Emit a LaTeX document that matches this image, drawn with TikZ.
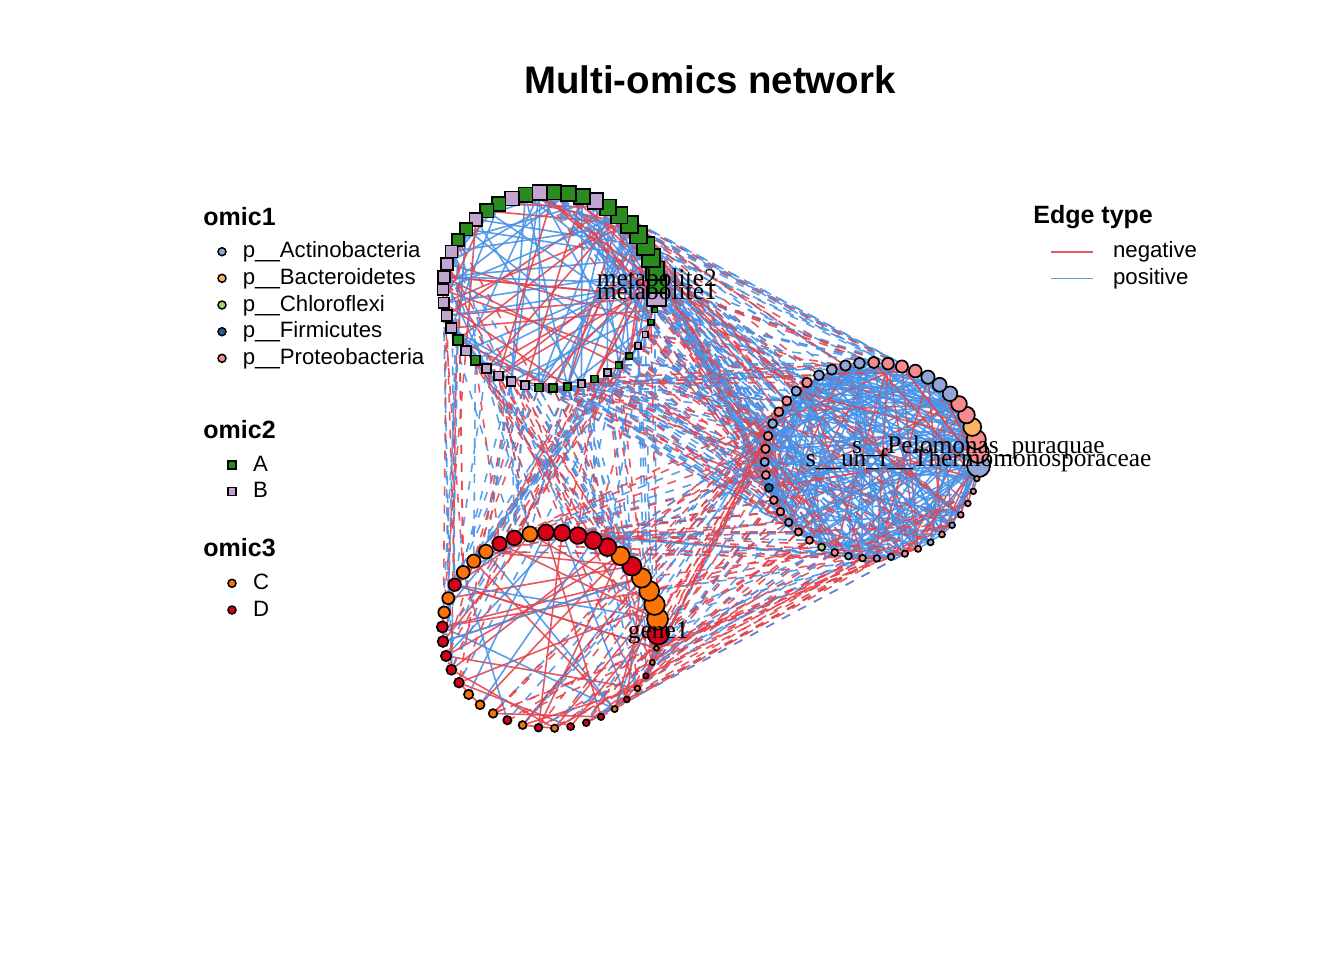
\documentclass[tikz,border=0pt]{standalone}
\usepackage{fontspec}
\setmainfont{Liberation Sans}
\newfontfamily\seriffont{Liberation Serif}
\usetikzlibrary{backgrounds}
\definecolor{colA}{HTML}{2A8B1F}
\definecolor{colB}{HTML}{C2A5CF}
\definecolor{colAc}{HTML}{8FA6D6}
\definecolor{colBa}{HTML}{FCB461}
\definecolor{colCh}{HTML}{A5D76E}
\definecolor{colFi}{HTML}{1F5FA0}
\definecolor{colPr}{HTML}{F68A8C}
\definecolor{colC}{HTML}{FB7306}
\definecolor{colD}{HTML}{D90019}
\definecolor{negc}{HTML}{E4454F}
\definecolor{posc}{HTML}{4893E8}
\begin{document}
\begin{tikzpicture}[x=0.5pt,y=-0.5pt,
  edgebase/.style={line width=0.8pt, opacity=0.9},
  dashpat/.style={dash pattern=on 4.5pt off 4.5pt},
  vsq/.style={rectangle, draw=black, line width=0.85pt, inner sep=0pt},
  vci/.style={circle, draw=black, line width=0.85pt, inner sep=0pt},
  nlab/.style={font=\seriffont\fontsize{12.7}{14}\selectfont, inner sep=0pt, anchor=base},
  legtitle/.style={font=\bfseries\fontsize{12.5}{14}\selectfont, inner sep=0pt, anchor=base west},
  legtext/.style={font=\fontsize{11.1}{13}\selectfont, inner sep=0pt, anchor=base west},
  legsym/.style={draw=black, line width=0.75pt, inner sep=0pt, minimum size=4pt}
]
\useasboundingbox (0,0) rectangle (1344,960);

% title
\node[font=\bfseries\fontsize{19.2}{22}\selectfont, inner sep=0pt, anchor=base] (title) at (710,93) {Multi-omics network};

% ---- circle 1 (omic2, squares)
\foreach \c [count=\i] in {B,A,A,A,A,A,A,A,A,B,A,A,A,B,A,B,A,A,B,A,A,B,B,B,B,B,B,B,A,B,A,B,B,B,B,A,A,A,B,A,B,A,A,B,B,A,A}{
  \pgfmathsetmacro\ang{-4+(\i-1)*7.6596}
  \pgfmathsetmacro\w{1-(\i-1)/46}
  \pgfmathsetmacro\sz{(5.5+13.5*\w*(0.75+0.25*\w))*0.5}
  \node[vsq, fill=col\c, minimum size=\sz pt] (a\i) at ({550+107*cos(\ang)},{290-98*sin(\ang)}) {};
}
% ---- circle 2 (omic1, circles)
\foreach \c [count=\i] in {Ac,Pr,Pr,Ba,Pr,Pr,Ac,Ac,Ac,Pr,Pr,Pr,Pr,Ac,Ac,Ac,Ac,Pr,Ac,Pr,Pr,Ac,Pr,Pr,Ac,Pr,Fi,Pr,Pr,Ac,Pr,Pr,Ch,Pr,Ac,Pr,Ac,Ac,Pr,Pr,Ac,Pr,Ac,Pr,Pr,Pr,Pr}{
  \pgfmathsetmacro\ang{-3+(\i-1)*7.6596}
  \pgfmathsetmacro\t{(\i-1)/46}
  \pgfmathsetmacro\sz{2.5+2*(1-\t)+7/(1+7*\t+20*\t*\t)}
  \node[vci, fill=col\c, minimum size=\sz pt] (b\i) at ({871.7+107*cos(\ang)},{460.5-98*sin(\ang)}) {};
}
% ---- circle 3 (omic3, circles)
\foreach \c [count=\i] in {D,C,C,C,C,D,C,D,D,D,D,D,C,D,D,C,C,C,D,C,C,D,D,D,D,D,C,C,C,D,C,D,C,D,D,D,C,D,C,D,C,C}{
  \pgfmathsetmacro\ang{-2+(\i-1)*8.5714}
  \pgfmathsetmacro\w{1-(\i-1)/41}
  \pgfmathsetmacro\sz{2.5+8.3*\w*(0.55+0.45*\w)}
  \node[vci, fill=col\c, minimum size=\sz pt] (c\i) at ({550.3+108*cos(\ang)},{630.3-98*sin(\ang)}) {};
}

% ---- edges
\begin{pgfonlayer}{background}
\pgfmathsetseed{7}
% within circle 1
\foreach \k in {1,...,120}{
  \pgfmathsetmacro\r{rnd}
  \pgfmathtruncatemacro\u{min(47,1+int(47*\r*(0.35+0.65*\r)))}
  \pgfmathtruncatemacro\v{min(47,1+int(47*rnd))}
  \ifnum\u=\v \pgfmathtruncatemacro\v{mod(\v,47)+1}\fi
  \pgfmathsetmacro\q{rnd}
  \ifdim\q pt<0.6pt \def\ec{posc}\else\def\ec{negc}\fi
  \draw[edgebase, draw=\ec] (a\u) -- (a\v);
}
% within circle 2
\foreach \k in {1,...,230}{
  \pgfmathsetmacro\r{rnd}
  \pgfmathtruncatemacro\u{min(47,1+int(47*\r*(0.35+0.65*\r)))}
  \pgfmathtruncatemacro\v{min(47,1+int(47*rnd))}
  \ifnum\u=\v \pgfmathtruncatemacro\v{mod(\v,47)+1}\fi
  \pgfmathsetmacro\q{rnd}
  \ifdim\q pt<0.75pt \def\ec{posc}\else\def\ec{negc}\fi
  \draw[edgebase, draw=\ec] (b\u) -- (b\v);
}
% within circle 3
\foreach \k in {1,...,50}{
  \pgfmathsetmacro\r{rnd}
  \pgfmathtruncatemacro\u{min(42,1+int(42*\r*(0.35+0.65*\r)))}
  \pgfmathtruncatemacro\v{min(42,1+int(42*rnd))}
  \ifnum\u=\v \pgfmathtruncatemacro\v{mod(\v,42)+1}\fi
  \pgfmathsetmacro\q{rnd}
  \ifdim\q pt<0.3pt \def\ec{posc}\else\def\ec{negc}\fi
  \draw[edgebase, draw=\ec] (c\u) -- (c\v);
}
% circle 1 -- circle 2
\foreach \k in {1,...,220}{
  \pgfmathtruncatemacro\u{mod(int(26*rnd)+35,47)+1}
  \pgfmathtruncatemacro\v{min(44,10+int(35*rnd))}
  \pgfmathsetmacro\q{rnd}
  \ifdim\q pt<0.6pt \def\ec{posc}\else\def\ec{negc}\fi
  \draw[edgebase, dashpat, draw=\ec] (a\u) -- (b\v);
}
% circle 1 -- circle 3
\foreach \k in {1,...,110}{
  \pgfmathtruncatemacro\u{min(47,21+int(27*rnd))}
  \pgfmathtruncatemacro\v{mod(int(30*rnd)+38,42)+1}
  \pgfmathsetmacro\q{rnd}
  \ifdim\q pt<0.5pt \def\ec{posc}\else\def\ec{negc}\fi
  \draw[edgebase, dashpat, draw=\ec] (a\u) -- (c\v);
}
% circle 2 -- circle 3
\foreach \k in {1,...,120}{
  \pgfmathtruncatemacro\u{min(46,18+int(29*rnd))}
  \pgfmathtruncatemacro\v{mod(int(30*rnd)+28,42)+1}
  \pgfmathsetmacro\q{rnd}
  \ifdim\q pt<0.45pt \def\ec{posc}\else\def\ec{negc}\fi
  \draw[edgebase, dashpat, draw=\ec] (b\u) -- (c\v);
}
\end{pgfonlayer}

% ---- node labels
\node[nlab, yshift=-1.5pt] (la2) at (a2) {metabolite2};
\node[nlab, yshift=-1.1pt] (la1) at (a1) {metabolite1};
\node[nlab, yshift=-0.4pt] (lb2) at (b2) {s\_\_Pelomonas\_puraquae};
\node[nlab, yshift=-0.5pt] (lb1) at (b1) {s\_\_un\_f\_\_Thermomonosporaceae};
\node[nlab, yshift=-2.3pt] (lc1) at (c1) {gene1};

% ---- legends
\node[legtitle] (t1) at (203,225) {omic1};
\node[legsym, circle, fill=colAc] (g1) at (222,251.7) {};
\node[legsym, circle, fill=colBa] (g2) at (222,278.3) {};
\node[legsym, circle, fill=colCh] (g3) at (222,305) {};
\node[legsym, circle, fill=colFi] (g4) at (222,331.7) {};
\node[legsym, circle, fill=colPr] (g5) at (222,358.3) {};
\node[legtext] (x1) at (242.5,257.7) {p\_\_Actinobacteria};
\node[legtext] (x2) at (242.5,284.3) {p\_\_Bacteroidetes};
\node[legtext] (x3) at (242.5,311) {p\_\_Chloroflexi};
\node[legtext] (x4) at (242.5,337.7) {p\_\_Firmicutes};
\node[legtext] (x5) at (242.5,364.3) {p\_\_Proteobacteria};

\node[legtitle] (t2) at (203,438.5) {omic2};
\node[legsym, rectangle, fill=colA] (g6) at (232,465) {};
\node[legsym, rectangle, fill=colB] (g7) at (232,491.7) {};
\node[legtext] (x6) at (252.7,471) {A};
\node[legtext] (x7) at (252.7,497.7) {B};

\node[legtitle] (t3) at (203,556.5) {omic3};
\node[legsym, circle, fill=colC] (g8) at (232,583.3) {};
\node[legsym, circle, fill=colD] (g9) at (232,610) {};
\node[legtext] (x8) at (252.7,589.3) {C};
\node[legtext] (x9) at (252.7,616) {D};

\node[legtitle] (t4) at (1033,223.3) {Edge type};
\coordinate (e1s) at (1051,251.7);
\coordinate (e1e) at (1093,251.7);
\coordinate (e2s) at (1051,278.3);
\coordinate (e2e) at (1093,278.3);
\draw[edgebase, draw=negc] (e1s) -- (e1e);
\draw[edgebase, draw=posc] (e2s) -- (e2e);
\node[legtext] (x10) at (1112.7,257.7) {negative};
\node[legtext] (x11) at (1112.7,284.3) {positive};
\end{tikzpicture}
\end{document}
